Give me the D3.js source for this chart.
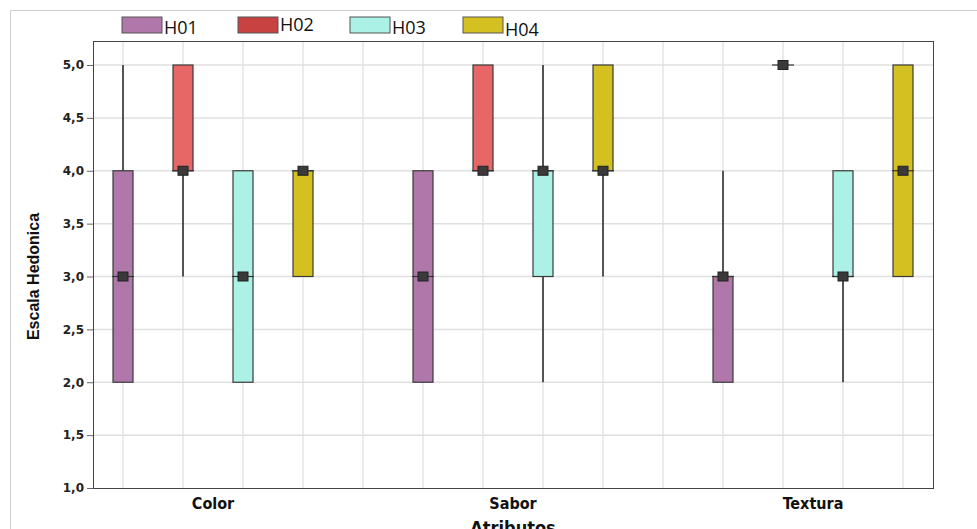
<!DOCTYPE html>
<html>
<head>
<meta charset="utf-8">
<script src="https://cdn.jsdelivr.net/npm/d3@7"></script>
<style>
  body { margin: 0; background: #fff; }
  svg { display: block; }
</style>
</head>
<body>
<div id="chart"></div>
<script>
// Data
var attributes = ["Color", "Sabor", "Textura"];
var series = ["H01", "H02", "H03", "H04"];
var colors = ["#b077ab", "#e76767", "#abf1e6", "#d4c020"];
var legendColors = ["#b077ab", "#c94242", "#abf1e6", "#d4c020"];

// [min, q1, median, q3, max] per attribute, per series
var h01 = [[2, 2, 3, 4, 5], [2, 2, 3, 4, 4], [2, 2, 3, 3, 4]];
var h02 = [[3, 4, 4, 5, 5], [4, 4, 4, 5, 5], [5, 5, 5, 5, 5]];
var h03 = [[2, 2, 3, 4, 4], [2, 3, 4, 4, 5], [2, 3, 3, 4, 4]];
var h04 = [[3, 3, 4, 4, 4], [3, 4, 4, 5, 5], [3, 3, 4, 5, 5]];
var allSeries = [h01, h02, h03, h04];

var yTicks = [1, 1.5, 2, 2.5, 3, 3.5, 4, 4.5, 5];

var W = 977, H = 529;
var margin = {left: 93, top: 41, right: 44, bottom: 41};
var width = W - margin.left - margin.right,
    height = H - margin.top - margin.bottom;

var svg = d3.select("#chart").append("svg")
    .attr("width", W)
    .attr("height", H);

// outer frame
svg.append("path")
    .attr("d", "M10.5," + H + "V10.5H" + W)
    .attr("fill", "none")
    .attr("stroke", "#d0d0d0");

var g = svg.append("g")
    .attr("transform", `translate(${margin.left}, ${margin.top})`);

// 14 slots: 4 boxes per attribute with one empty slot between groups
var x = d3.scaleLinear().domain([-0.5, 13.5]).range([0, width]);
var y = d3.scaleLinear().domain([1, 5.227]).range([height, 0]);

function slot(a, s) { return a * 5 + s; }

// gridlines
g.append("g").selectAll("line")
    .data(d3.range(0, 14))
    .enter().append("line")
    .attr("x1", d => x(d)).attr("x2", d => x(d))
    .attr("y1", 0).attr("y2", height)
    .attr("stroke", "#e4e4e4").attr("stroke-width", 1.5);

g.append("g").selectAll("line")
    .data(yTicks.slice(1))
    .enter().append("line")
    .attr("x1", 0).attr("x2", width)
    .attr("y1", d => y(d)).attr("y2", d => y(d))
    .attr("stroke", "#e0e0e0").attr("stroke-width", 1.5);

// y axis
var leftAxis = d3.axisLeft(y)
    .tickValues(yTicks)
    .tickSize(6)
    .tickFormat(d => d3.format(".1f")(d).replace(".", ","));

var yAxis = g.append("g").call(leftAxis);
yAxis.select(".domain").remove();
yAxis.selectAll("line").attr("stroke", "#666");
yAxis.selectAll("text")
    .attr("font-family", "DejaVu Sans, Verdana, sans-serif")
    .attr("font-weight", "bold")
    .attr("font-size", "12px")
    .attr("fill", "#222")
    .attr("x", -9);

// plot border
g.append("rect")
    .attr("x", 0.5).attr("y", 0.5)
    .attr("width", width).attr("height", height)
    .attr("fill", "none")
    .attr("stroke", "#444");

// boxes
var boxW = 20;
attributes.forEach(function(attr, a) {
    allSeries.forEach(function(data, s) {
        var d = data[a];
        var cx = x(slot(a, s));
        var bg = g.append("g");

        // whisker
        bg.append("line")
            .attr("x1", cx).attr("x2", cx)
            .attr("y1", y(d[0])).attr("y2", y(d[4]))
            .attr("stroke", "#222").attr("stroke-width", 1.5);

        // box
        if (d[3] > d[1]) {
            bg.append("rect")
                .attr("x", cx - boxW / 2)
                .attr("y", y(d[3]))
                .attr("width", boxW)
                .attr("height", y(d[1]) - y(d[3]))
                .attr("fill", colors[s])
                .attr("stroke", "#3a3a3a")
                .attr("stroke-width", 1.2);
        }

        // median line and marker
        bg.append("line")
            .attr("x1", cx - boxW / 2 - 1).attr("x2", cx + boxW / 2 + 1)
            .attr("y1", y(d[2])).attr("y2", y(d[2]))
            .attr("stroke", "#333").attr("stroke-width", 1.2);

        bg.append("rect")
            .attr("x", cx - 5).attr("y", y(d[2]) - 4.5)
            .attr("width", 10).attr("height", 9)
            .attr("fill", "#3a3a3a")
            .attr("stroke", "#222")
            .attr("stroke-width", 1);
    });
});

// x category labels
g.append("g").selectAll("text")
    .data(attributes)
    .enter().append("text")
    .attr("x", (d, a) => x(slot(a, 1.5)))
    .attr("y", height + 21)
    .attr("text-anchor", "middle")
    .attr("font-family", "DejaVu Sans Condensed, DejaVu Sans, sans-serif")
    .attr("font-stretch", "condensed")
    .attr("font-weight", "bold")
    .attr("font-size", "16px")
    .attr("fill", "#111")
    .text(d => d);

// axis titles
g.append("text")
    .attr("x", width / 2)
    .attr("y", height + 46)
    .attr("text-anchor", "middle")
    .attr("font-family", "DejaVu Sans Condensed, DejaVu Sans, sans-serif")
    .attr("font-stretch", "condensed")
    .attr("font-weight", "bold")
    .attr("font-size", "18px")
    .attr("fill", "#111")
    .text("Atributos");

svg.append("text")
    .attr("transform", `translate(39, ${margin.top + y(3)}) rotate(-90)`)
    .attr("text-anchor", "middle")
    .attr("font-family", "Liberation Sans, Arial, sans-serif")
    .attr("font-weight", "bold")
    .attr("font-size", "16px")
    .attr("fill", "#111")
    .text("Escala Hedonica");

// legend
var legendX = [122, 238, 350, 463];
var legendTextDy = [0, -3, 0, 2];
var legend = svg.append("g").selectAll("g")
    .data(series)
    .enter().append("g")
    .attr("transform", (d, i) => `translate(${legendX[i]}, 17)`);

legend.append("rect")
    .attr("width", 40).attr("height", 16)
    .attr("fill", (d, i) => legendColors[i])
    .attr("stroke", "#555")
    .attr("stroke-width", 1);

legend.append("text")
    .attr("x", 42)
    .attr("y", (d, i) => 17 + legendTextDy[i])
    .attr("font-family", "Open Sans, Noto Sans, sans-serif")
    .attr("font-size", "18px")
    .attr("fill", "#111")
    .text(d => d);
</script>
</body>
</html>
